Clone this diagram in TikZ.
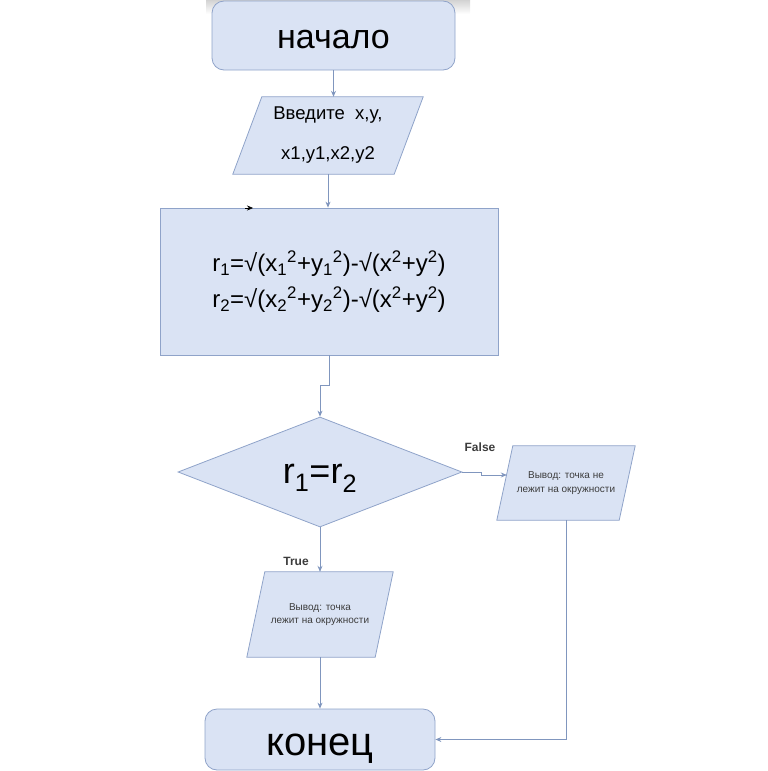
\documentclass[tikz,border=0pt]{standalone}
\usepackage{fontspec}
\setmainfont{Liberation Sans}
\usetikzlibrary{shapes.geometric,arrows.meta,backgrounds}
\definecolor{boxfill}{RGB}{218,227,244}
\definecolor{boxline}{RGB}{143,163,201}
\definecolor{flowline}{RGB}{128,150,190}
\definecolor{smalltext}{RGB}{60,60,60}
\tikzset{
  block/.style={draw=boxline,fill=boxfill,line width=0.8pt},
  term/.style={block,rounded corners=12pt},
  io/.style={align=center,inner sep=0pt},
  flow/.style={draw=flowline,line width=0.8pt,-{Stealth[length=6pt,width=5pt]}},
  branch/.style={font=\bfseries\fontsize{12}{14}\selectfont,text=smalltext},
}
% parallelogram round an io node: name, slant
\newcommand\iobox[2]{\draw[block] ([xshift=#2]#1.north west) -- (#1.north east)
  -- ([xshift=-#2]#1.south east) -- (#1.south west) -- cycle;}
\begin{document}
\begin{tikzpicture}[x=1pt,y=-1pt]
        \useasboundingbox (0,0) rectangle (768,771);
        %% Shadow strip on top
        \shade[top color=gray!35,bottom color=white] (206,0) rectangle (470,14);
        %% Blocks
        \node[term,minimum width=243pt,minimum height=69pt,font=\fontsize{34}{40}\selectfont] (start) at (333.5,35.5) {\smash{\raisebox{-12.5pt}{начало}}};
        \node[io,minimum width=190pt,minimum height=77pt,font=\fontsize{18.5}{22}\selectfont] (input) at (328,135.5) {Введите~~x,y,\\[18pt]x1,y1,x2,y2};
        \node[block,minimum width=338pt,minimum height=147pt,align=center,font=\fontsize{24}{36}\selectfont] (calc) at (329,281.5) {r\textsubscript{1}=√(x\textsubscript{1}\textsuperscript{2}+y\textsubscript{1}\textsuperscript{2})-√(x\textsuperscript{2}+y\textsuperscript{2})\\r\textsubscript{2}=√(x\textsubscript{2}\textsuperscript{2}+y\textsubscript{2}\textsuperscript{2})-√(x\textsuperscript{2}+y\textsuperscript{2})};
        \node[block,diamond,shape aspect=2.58,inner sep=0pt,minimum width=284pt,minimum height=110pt,font=\fontsize{36}{40}\selectfont] (cond) at (320,472) {\smash{\raisebox{-11pt}{r\textsubscript{1}=r\textsubscript{2}}}};
        \node[io,minimum width=138pt,minimum height=74pt,text=smalltext,font=\fontsize{10}{14}\selectfont] (nothit) at (566,483) {Вывод: точка не\\лежит на окружности};
        \node[io,minimum width=146pt,minimum height=85pt,text=smalltext,font=\fontsize{10}{12.5}\selectfont] (hit) at (320,614.5) {Вывод: точка\\лежит на окружности};
        \node[term,minimum width=230pt,minimum height=61pt,font=\fontsize{40}{46}\selectfont] (stop) at (320,739.5) {\smash{\raisebox{-15.5pt}{конец}}};
        %% Parallelograms behind the io texts
        \begin{scope}[on background layer]
        \iobox{input}{29pt}
        \iobox{nothit}{16pt}
        \iobox{hit}{18pt}
        \end{scope}
        %% Stray arrow tip
        \coordinate (stray) at (253,208);
        \draw[-{Stealth[length=6pt,width=5pt]}] ([xshift=-8pt]stray) -- (stray);
        %% Flow lines
        \draw[flow] (start.south) -- (start.south |- input.north);
        \draw[flow] (input.south) -- (input.south |- calc.north);
        \draw[flow] (calc.south) -- ++(0,30) -| (cond.north);
        \draw[flow] (cond.east) -- ++(19,0) |- ([shift={(10pt,8pt)}]nothit.west);
        \draw[flow] (cond.south) -- (hit.north);
        \draw[flow] (hit.south) -- (stop.north);
        \draw[flow] (nothit.south) |- (stop.east);
        %% Branch labels
        \node[branch] (flabel) at (480,447) {False};
        \node[branch] (tlabel) at (296,561) {True};
\end{tikzpicture}
\end{document}
